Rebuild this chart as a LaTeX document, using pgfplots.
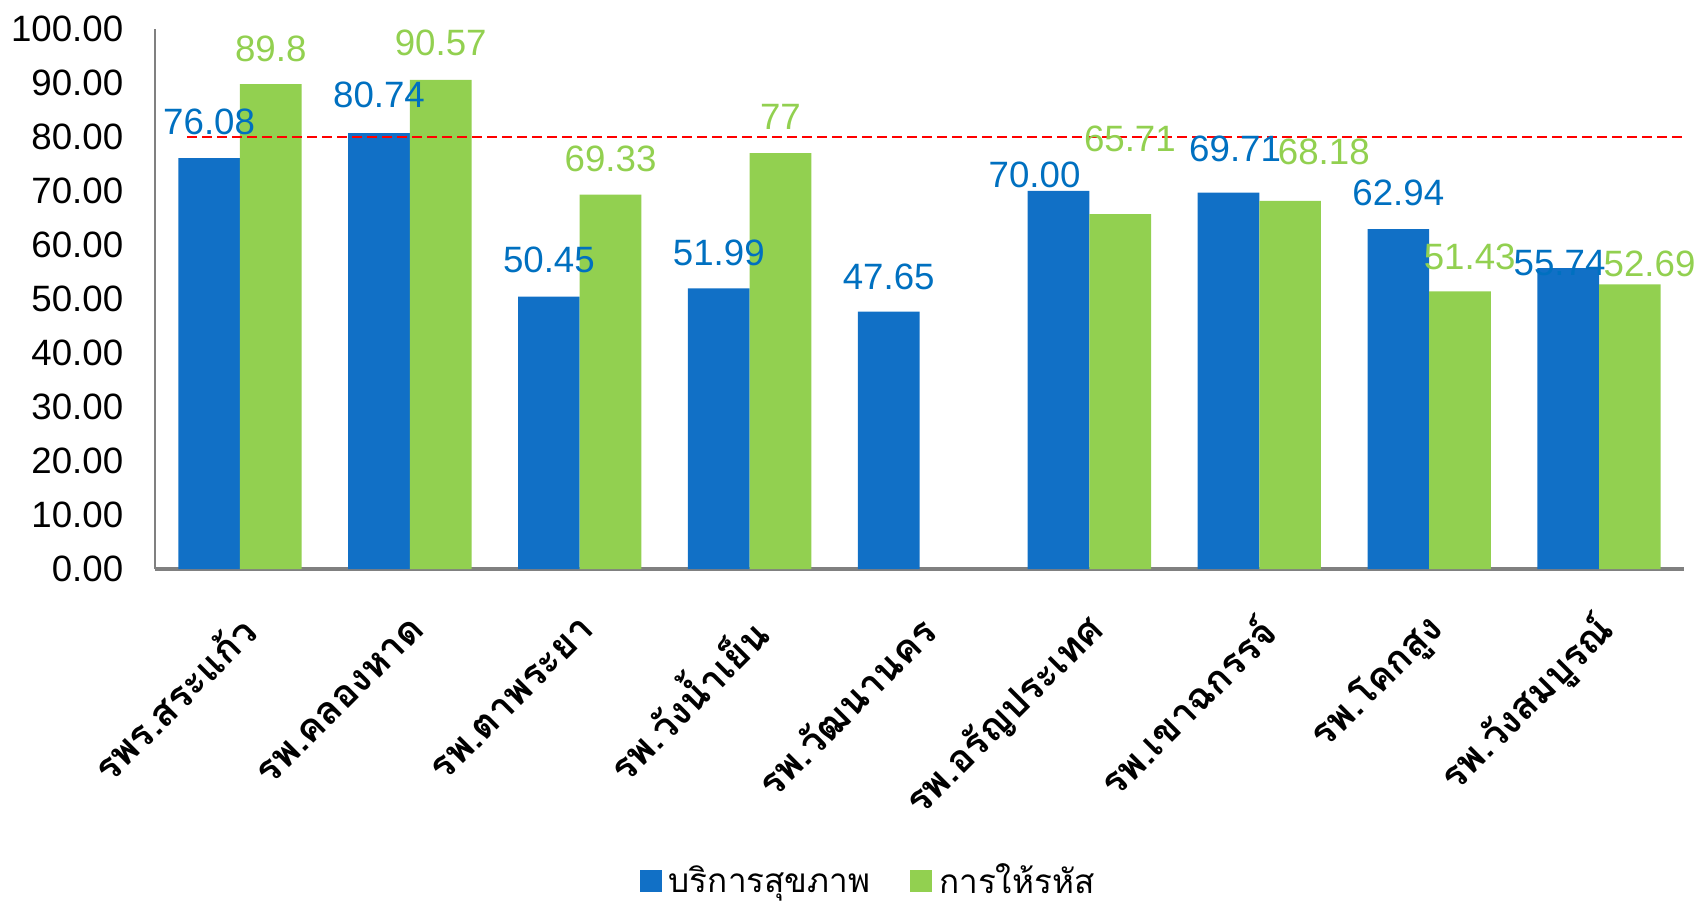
\documentclass[border=0pt]{standalone}
\usepackage{pgfplots}
\usepackage{pgfplotstable}
\usepackage{fontspec}
\pgfplotsset{compat=1.18}
\setmainfont{Liberation Sans}
\newfontfamily\thaifont[Script=Thai]{Loma}

\definecolor{barblue}{HTML}{1170C6}
\definecolor{lblblue}{HTML}{0070C0}
\definecolor{bargreen}{HTML}{92D050}

% x  value  label  dx(pt)  dy(pt)
\pgfplotstableread{
x  y      lab    dx    dy
0  76.08  76.08  0     11.0
1  80.74  80.74  0     11.5
2  50.45  50.45  0     11.0
3  51.99  51.99  0     10.7
4  47.65  47.65  0     10.5
5  70.00  70.00  -7.2  4.7
6  69.71  69.71  2.0   13.0
7  62.94  62.94  0     11.0
8  55.74  55.74  -2.6  1.5
}\service

\pgfplotstableread{
x  y      lab    dx    dy
0  89.80  89.8   0     10.7
1  90.57  90.57  0     11.0
2  69.33  69.33  0     10.7
3  77.00  77     0     10.9
5  65.71  65.71  2.9   22.7
6  68.18  68.18  10.1  14.7
7  51.43  51.43  2.9   10.4
8  52.69  52.69  5.9   6.3
}\coding

\pgfplotsset{
    barlabels/.style={
        point meta=explicit symbolic,
        nodes near coords={\pgfplotspointmeta},
        visualization depends on={\thisrow{dx} \as \ldx},
        visualization depends on={\thisrow{dy} \as \ldy},
        every node near coord/.append style={anchor=center, xshift=\ldx pt, yshift=\ldy pt,
            font=\fontsize{11}{13}\selectfont, text=#1},
    },
}

\begin{document}
\begin{tikzpicture}
\begin{axis}[
    scale only axis,
    width=458.7pt, height=162pt,
    ybar=0pt, bar width=18.5pt,
    xmin=-0.5, xmax=8.5, ymin=0, ymax=100,
    xtick={0,...,8},
    xticklabels={รพร.สระแก้ว, รพ.คลองหาด, รพ.ตาพระยา, รพ.วังน้ำเย็น, รพ.วัฒนานคร, รพ.อรัญประเทศ, รพ.เขาฉกรรจ์, รพ.โคกสูง, รพ.วังสมบูรณ์},
    ytick={0,10,...,100},
    major tick length=0pt,
    axis x line*=bottom, axis y line*=left,
    x axis line style={-, draw=gray, line width=1.2pt},
    y axis line style={-, draw=gray, line width=0.8pt},
    yticklabel style={font=\fontsize{11}{13}\selectfont, xshift=-6pt},
    xticklabel style={font=\fontsize{11.5}{13}\selectfont\thaifont\bfseries, xshift=5pt, yshift=-14pt, rotate=45, anchor=east},
    /pgf/number format/.cd, fixed, fixed zerofill, precision=2, assume math mode=true,
    /pgfplots/.cd,
    clip=false,
    legend columns=2,
    legend style={at={(0.468,-0.578)}, anchor=center, draw=none, font=\fontsize{10}{12}\selectfont\thaifont,
        /tikz/every even column/.append style={column sep=10pt}},
    legend image code/.code={\fill[#1, draw=none] (0pt,-3.3pt) rectangle (6.6pt,3.3pt);},
]
\addplot[fill=barblue, draw=none, barlabels=lblblue]
    table[x=x, y=y, meta=lab] {\service};
\addplot[fill=bargreen, draw=none, barlabels=bargreen]
    table[x=x, y=y, meta=lab] {\coding};
\legend{บริการสุขภาพ, การให้รหัส}
\addplot[red, sharp plot, line width=0.7pt, dash pattern=on 3pt off 1.5pt, forget plot]
    coordinates {(-0.31,80) (8.5,80)};
\end{axis}
\pgfresetboundingbox
\useasboundingbox ([shift={(-46.5pt,-102pt)}]current axis.south west) rectangle ([shift={(4.2pt,8.7pt)}]current axis.north east);
\end{tikzpicture}
\end{document}
